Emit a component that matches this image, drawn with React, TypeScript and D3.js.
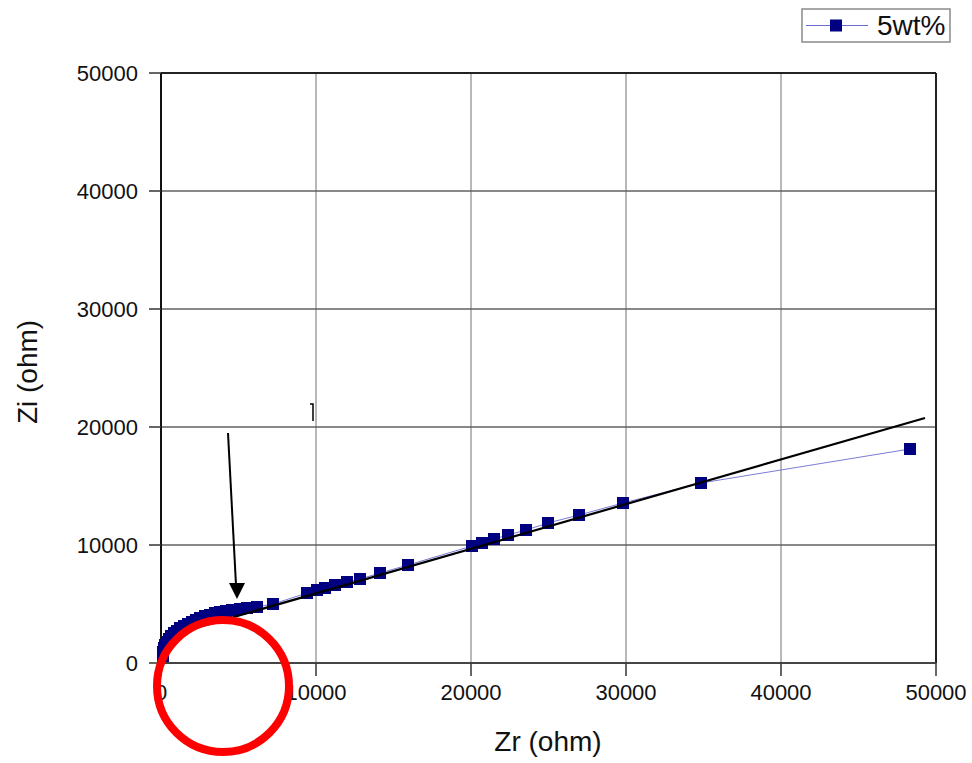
import React from 'react';
import * as d3 from 'd3';

// impedance data, 5wt% sample (ohm)
const zr = [129, 129, 194, 258, 387, 516, 645, 839, 1032, 1226, 1484, 1742, 2000, 2258, 2516, 2839, 3161, 3484, 3806, 4194, 4581, 5097, 5548, 6194, 7226,
  9419, 10065, 10581, 11226, 12000, 12839, 14129, 15935, 20065, 20710, 21484, 22387, 23548, 24968, 26968, 29806, 34839, 48323];
const zi = [593, 932, 1271, 1525, 1780, 2034, 2288, 2542, 2712, 2966, 3136, 3305, 3475, 3644, 3814, 3983, 4068, 4237, 4322, 4407, 4492, 4576, 4661, 4746, 5000,
  5932, 6186, 6356, 6610, 6864, 7119, 7627, 8305, 9915, 10169, 10508, 10847, 11271, 11864, 12542, 13559, 15254, 18136];

// linear fit drawn over the data
const fitZr = [1355, 49290];
const fitZi = [2627, 20763];

const ticks = [0, 10000, 20000, 30000, 40000, 50000];
const seriesName = '5wt%';

export default function App() {
  const width = 972;
  const height = 763;
  const margin = { top: 73, right: 36, bottom: 100, left: 161 };

  const x = d3.scaleLinear().domain([0, 50000]).range([margin.left, width - margin.right]);
  const y = d3.scaleLinear().domain([0, 50000]).range([height - margin.bottom, margin.top]);

  const pts = zr.map((v, i) => [v, zi[i]] as [number, number]);
  const line = d3.line<[number, number]>().x(d => x(d[0])).y(d => y(d[1]));
  const fit = fitZr.map((v, i) => [v, fitZi[i]] as [number, number]);

  const font = 'Liberation Sans, Arial, sans-serif';
  const x0 = x(0), x1 = x(50000), y0 = y(0), y1 = y(50000);
  const sq = 12;

  return (
    <svg width={width} height={height} style={{ position: 'absolute', left: 0, top: 0, background: '#fff' }} fontFamily={font}>
      {/* grid */}
      {ticks.slice(1, -1).map(t => (
        <line key={'gx' + t} x1={x(t)} x2={x(t)} y1={y0} y2={y1} stroke="#a0a0a0" strokeWidth={1.5} />
      ))}
      {ticks.slice(1, -1).map(t => (
        <line key={'gy' + t} x1={x0} x2={x1} y1={y(t)} y2={y(t)} stroke="#606060" strokeWidth={1.5} />
      ))}

      {/* frame and axes */}
      <line x1={x0} x2={x1} y1={y1} y2={y1} stroke="#222" strokeWidth={2} />
      <line x1={x1} x2={x1} y1={y1} y2={y0} stroke="#222" strokeWidth={2} />
      <line x1={x0} x2={x0} y1={y1} y2={y0} stroke="#111" strokeWidth={2} />
      <line x1={x0} x2={x1} y1={y0} y2={y0} stroke="#444" strokeWidth={2} />

      {/* ticks + labels */}
      {ticks.map(t => (
        <g key={'tx' + t}>
          <line x1={x(t)} x2={x(t)} y1={y0} y2={y0 + 13} stroke="#333" strokeWidth={1.5} />
          <text x={x(t)} y={y0 + 37} textAnchor="middle" fontSize={22} fill="#111">{t}</text>
        </g>
      ))}
      {ticks.map(t => (
        <g key={'ty' + t}>
          <line x1={x0 - 12} x2={x0} y1={y(t)} y2={y(t)} stroke="#333" strokeWidth={1.5} />
          <text x={x0 - 23} y={y(t) + 8} textAnchor="end" fontSize={22} fill="#111">{t}</text>
        </g>
      ))}

      <text x={548} y={751} textAnchor="middle" fontSize={28} fill="#111">Zr (ohm)</text>
      <text transform={`translate(37, 372) rotate(-90)`} textAnchor="middle" fontSize={28} fill="#111">Zi (ohm)</text>

      {/* series */}
      <path d={line(pts) || ''} fill="none" stroke="#7b7bd6" strokeWidth={1} />
      {pts.map((d, i) => (
        <rect key={'p' + i} x={x(d[0]) - sq / 2} y={y(d[1]) - sq / 2} width={sq} height={sq} fill="#000080" />
      ))}

      {/* fit */}
      <path d={line(fit) || ''} fill="none" stroke="#000" strokeWidth={2.2} />

      {/* annotations */}
      <line x1={228} y1={433} x2={236} y2={585} stroke="#000" strokeWidth={2} />
      <path d="M229,583 L245,583 L237,599 Z" fill="#000" />
      <path d="M310,404 L313,404 L313,421" fill="none" stroke="#000" strokeWidth={1.5} />
      <circle cx={223} cy={686} r={66} fill="none" stroke="#ff0000" strokeWidth={8} />

      {/* legend */}
      <rect x={802} y={9} width={148} height={33} fill="#fff" stroke="#8a8a8a" strokeWidth={1.5} />
      <line x1={806} x2={868} y1={25.5} y2={25.5} stroke="#6a6ad0" strokeWidth={1} />
      <rect x={836 - sq / 2} y={25.5 - sq / 2} width={sq} height={sq} fill="#000080" />
      <text x={877} y={35} fontSize={28} fill="#111">{seriesName}</text>
    </svg>
  );
}
